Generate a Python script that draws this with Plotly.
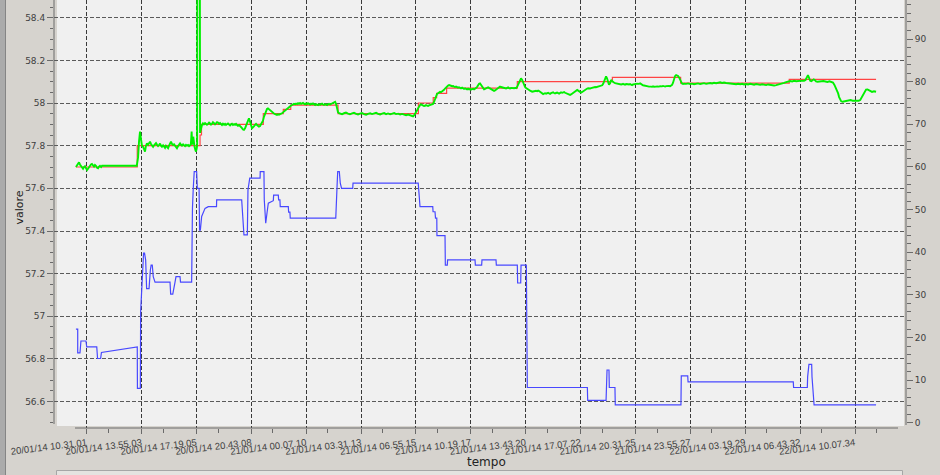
import pandas as pd
import plotly.graph_objects as go

# ---------------- data (ore = hours since 20/01/14 00:00) ----------------
BASE = pd.Timestamp("2014-01-20 00:00:00")

etichette_tempo = [
    "20/01/14 10.31.01", "20/01/14 13.55.03", "20/01/14 17.19.05", "20/01/14 20.43.08",
    "21/01/14 00.07.10", "21/01/14 03.31.13", "21/01/14 06.55.15", "21/01/14 10.19.17",
    "21/01/14 13.43.20", "21/01/14 17.07.22", "21/01/14 20.31.25", "21/01/14 23.55.27",
    "22/01/14 03.19.29", "22/01/14 06.43.32", "22/01/14 10.07.34",
]

# green series (left axis, "valore")
verde = [
    (9.85, 57.700), (9.92, 57.708), (9.98, 57.712), (10.04, 57.722), (10.10, 57.712), (10.16, 57.705),
    (10.23, 57.698), (10.29, 57.692), (10.35, 57.700), (10.41, 57.704), (10.47, 57.695), (10.54, 57.686),
    (10.60, 57.692), (10.66, 57.700), (10.72, 57.706), (10.78, 57.712), (10.84, 57.714), (10.91, 57.706),
    (10.97, 57.702), (11.03, 57.710), (11.09, 57.706), (11.16, 57.696), (11.22, 57.694), (11.28, 57.702),
    (11.34, 57.706), (11.41, 57.700), (11.47, 57.706), (13.62, 57.706),
    (13.70, 57.745), (13.76, 57.820), (13.82, 57.866), (13.88, 57.832), (13.94, 57.800), (14.01, 57.795),
    (14.07, 57.780), (14.13, 57.772), (14.19, 57.800), (14.25, 57.811), (14.32, 57.804), (14.38, 57.815),
    (14.44, 57.819), (14.50, 57.808), (14.56, 57.800), (14.63, 57.795), (14.69, 57.802), (14.75, 57.808),
    (14.81, 57.812), (14.87, 57.805), (14.94, 57.798), (15.00, 57.803), (15.06, 57.810), (15.12, 57.800),
    (15.18, 57.795), (15.25, 57.802), (15.31, 57.796), (15.37, 57.790), (15.43, 57.800), (15.49, 57.795),
    (15.56, 57.788), (15.62, 57.800), (15.68, 57.812), (15.74, 57.819), (15.80, 57.808), (15.87, 57.803),
    (15.93, 57.806), (15.99, 57.798), (16.05, 57.792), (16.11, 57.788), (16.18, 57.798), (16.24, 57.806),
    (16.30, 57.811), (16.36, 57.804), (16.42, 57.800), (16.49, 57.806), (16.55, 57.802), (16.61, 57.798),
    (16.67, 57.804), (16.73, 57.800), (16.80, 57.803), (16.86, 57.798), (16.92, 57.802), (16.97, 57.806),
    (17.00, 57.840), (17.02, 57.866), (17.05, 57.806), (17.09, 57.815), (17.12, 57.842), (17.15, 57.810),
    (17.20, 57.795), (17.26, 57.778), (17.29, 57.772), (17.33, 57.785), (17.36, 57.800), (17.38, 59.300),
    (17.52, 59.300), (17.54, 57.860), (17.58, 57.880), (17.62, 57.893),
    (17.66, 57.897), (17.72, 57.905), (17.78, 57.900), (17.85, 57.906), (17.91, 57.903), (17.97, 57.898),
    (18.03, 57.902), (18.10, 57.908), (18.16, 57.904), (18.22, 57.899), (18.28, 57.903), (18.34, 57.910),
    (18.41, 57.906), (18.47, 57.900), (18.53, 57.905), (18.59, 57.910), (18.65, 57.908), (18.72, 57.902),
    (18.78, 57.906), (18.84, 57.900), (18.90, 57.897), (18.96, 57.903), (19.03, 57.898), (19.09, 57.902),
    (19.15, 57.897), (19.21, 57.901), (19.27, 57.904), (19.34, 57.899), (19.40, 57.895), (19.46, 57.900),
    (19.52, 57.903), (19.58, 57.897), (19.65, 57.901), (19.71, 57.898), (19.77, 57.902), (19.83, 57.897),
    (19.89, 57.893), (19.96, 57.897), (20.02, 57.890), (20.08, 57.886), (20.14, 57.882), (20.20, 57.876),
    (20.26, 57.874), (20.33, 57.882), (20.39, 57.892), (20.45, 57.905), (20.51, 57.918), (20.57, 57.928),
    (20.63, 57.915), (20.70, 57.896), (20.76, 57.882), (20.82, 57.886), (20.88, 57.893), (20.94, 57.899),
    (21.01, 57.902), (21.07, 57.897), (21.13, 57.893), (21.19, 57.889), (21.26, 57.892), (21.32, 57.899),
    (21.38, 57.906), (21.44, 57.917), (21.50, 57.935), (21.57, 57.952), (21.63, 57.967), (21.69, 57.972),
    (21.75, 57.975), (21.81, 57.971), (21.88, 57.965), (21.94, 57.960), (22.00, 57.957), (22.06, 57.955),
    (22.12, 57.951), (22.19, 57.948), (22.25, 57.945), (22.31, 57.944), (22.37, 57.947), (22.43, 57.945),
    (22.50, 57.948), (22.56, 57.949), (22.62, 57.952), (22.68, 57.956), (22.74, 57.960), (22.81, 57.963),
    (22.87, 57.968), (22.93, 57.973), (22.99, 57.978), (23.05, 57.983), (23.12, 57.986), (23.18, 57.988),
    (23.24, 57.991), (23.30, 57.993), (23.36, 57.996), (23.43, 57.994), (23.49, 57.997), (23.55, 57.995),
    (23.61, 57.999), (23.67, 57.996), (23.74, 58.000), (23.80, 57.996), (23.86, 57.998), (23.92, 58.001),
    (23.98, 57.997), (24.05, 57.994), (24.11, 57.998), (24.17, 57.995), (24.23, 57.999), (24.29, 57.996),
    (24.36, 57.993), (24.42, 57.997), (24.48, 57.995), (24.54, 57.998), (24.60, 57.994), (24.67, 57.991),
    (24.73, 57.995), (24.79, 57.993), (24.85, 57.990), (24.91, 57.994), (24.98, 57.992), (25.04, 57.995),
    (25.10, 57.997), (25.16, 57.993), (25.22, 57.991), (25.29, 57.995), (25.35, 57.993), (25.41, 57.990),
    (25.47, 57.994), (25.53, 57.996), (25.60, 57.993), (25.66, 57.995), (25.72, 57.997), (25.78, 57.999),
    (25.84, 58.002), (25.91, 58.006), (25.97, 57.995), (26.03, 57.970), (26.09, 57.957), (26.15, 57.953),
    (26.21, 57.951), (26.34, 57.948), (26.46, 57.952), (26.58, 57.955), (26.71, 57.950), (26.83, 57.947),
    (26.96, 57.951), (27.08, 57.954), (27.21, 57.949), (27.33, 57.946), (27.45, 57.950), (27.58, 57.953),
    (27.70, 57.948), (27.83, 57.945), (27.95, 57.949), (28.08, 57.952), (28.20, 57.948), (28.32, 57.951),
    (28.45, 57.954), (28.57, 57.949), (28.70, 57.946), (28.82, 57.950), (28.95, 57.953), (29.07, 57.948),
    (29.19, 57.951), (29.32, 57.947), (29.44, 57.950), (29.57, 57.953), (29.69, 57.948), (29.82, 57.950),
    (29.94, 57.946), (30.06, 57.949), (30.19, 57.946), (30.31, 57.943), (30.44, 57.946), (30.56, 57.942),
    (30.68, 57.939), (30.74, 57.937), (30.80, 57.942), (30.86, 57.948), (30.92, 57.957), (30.99, 57.966),
    (31.05, 57.975), (31.11, 57.984), (31.17, 57.990), (31.23, 57.994), (31.30, 57.991), (31.36, 57.988),
    (31.42, 57.986), (31.48, 57.987), (31.54, 57.990), (31.61, 57.988), (31.67, 57.986), (31.73, 57.989),
    (31.79, 57.991), (31.85, 57.990), (31.92, 57.993), (31.98, 57.996), (32.04, 58.005), (32.10, 58.018),
    (32.16, 58.032), (32.22, 58.042), (32.29, 58.046), (32.35, 58.048), (32.41, 58.053), (32.47, 58.051),
    (32.53, 58.054), (32.60, 58.058), (32.66, 58.062), (32.72, 58.068), (32.78, 58.074), (32.85, 58.079),
    (32.91, 58.082), (32.97, 58.084), (33.03, 58.084), (33.09, 58.081), (33.16, 58.079), (33.22, 58.080),
    (33.28, 58.077), (33.34, 58.075), (33.40, 58.077), (33.47, 58.074), (33.53, 58.072), (33.59, 58.074),
    (33.65, 58.071), (33.71, 58.069), (33.78, 58.072), (33.84, 58.068), (33.90, 58.066), (33.96, 58.069),
    (34.02, 58.066), (34.09, 58.064), (34.15, 58.067), (34.21, 58.064), (34.27, 58.066), (34.33, 58.063),
    (34.40, 58.065), (34.46, 58.067), (34.52, 58.064), (34.58, 58.066), (34.64, 58.070), (34.71, 58.076),
    (34.77, 58.084), (34.83, 58.090), (34.89, 58.092), (34.95, 58.086), (35.02, 58.076), (35.08, 58.068),
    (35.14, 58.064), (35.20, 58.066), (35.26, 58.069), (35.33, 58.072), (35.39, 58.074), (35.45, 58.071),
    (35.51, 58.068), (35.57, 58.064), (35.64, 58.060), (35.70, 58.058), (35.76, 58.057), (35.82, 58.059),
    (35.88, 58.063), (35.95, 58.067), (36.01, 58.071), (36.07, 58.075), (36.13, 58.077), (36.19, 58.075),
    (36.26, 58.073), (36.32, 58.071), (36.38, 58.073), (36.44, 58.070), (36.50, 58.068), (36.57, 58.071),
    (36.63, 58.073), (36.69, 58.070), (36.75, 58.068), (36.81, 58.071), (36.88, 58.069), (36.94, 58.067),
    (37.00, 58.069), (37.06, 58.071), (37.12, 58.070), (37.19, 58.076), (37.25, 58.088), (37.31, 58.100),
    (37.37, 58.112), (37.43, 58.116), (37.50, 58.108), (37.56, 58.096), (37.62, 58.084), (37.68, 58.075),
    (37.74, 58.070), (37.81, 58.068), (37.87, 58.065), (37.93, 58.061), (37.99, 58.058), (38.05, 58.055),
    (38.12, 58.053), (38.18, 58.054), (38.24, 58.056), (38.30, 58.058), (38.36, 58.057), (38.43, 58.055),
    (38.49, 58.058), (38.55, 58.056), (38.61, 58.052), (38.67, 58.048), (38.74, 58.044), (38.80, 58.042),
    (38.86, 58.044), (38.92, 58.046), (38.98, 58.044), (39.05, 58.046), (39.11, 58.048), (39.17, 58.045),
    (39.23, 58.043), (39.29, 58.046), (39.36, 58.048), (39.42, 58.050), (39.48, 58.047), (39.54, 58.045),
    (39.60, 58.047), (39.67, 58.049), (39.73, 58.046), (39.79, 58.044), (39.85, 58.047), (39.91, 58.050),
    (39.98, 58.048), (40.04, 58.050), (40.10, 58.051), (40.16, 58.048), (40.22, 58.046), (40.29, 58.044),
    (40.35, 58.042), (40.41, 58.040), (40.47, 58.038), (40.53, 58.040), (40.60, 58.044), (40.66, 58.048),
    (40.72, 58.053), (40.78, 58.057), (40.84, 58.060), (40.91, 58.061), (40.97, 58.058), (41.03, 58.054),
    (41.09, 58.050), (41.15, 58.049), (41.22, 58.052), (41.28, 58.056), (41.34, 58.060), (41.40, 58.063),
    (41.46, 58.066), (41.53, 58.068), (41.59, 58.069), (41.65, 58.067), (41.71, 58.068), (41.77, 58.070),
    (41.84, 58.072), (41.90, 58.071), (41.96, 58.073), (42.02, 58.075), (42.08, 58.074), (42.15, 58.076),
    (42.21, 58.077), (42.27, 58.079), (42.33, 58.078), (42.39, 58.080), (42.46, 58.083), (42.52, 58.090),
    (42.58, 58.102), (42.64, 58.115), (42.70, 58.125), (42.76, 58.116), (42.82, 58.098), (42.88, 58.086),
    (42.95, 58.092), (43.01, 58.108), (43.07, 58.103), (43.13, 58.098), (43.19, 58.096), (43.26, 58.093),
    (43.32, 58.092), (43.38, 58.090), (43.44, 58.088), (43.50, 58.090), (43.57, 58.089), (43.63, 58.087),
    (43.69, 58.088), (43.75, 58.090), (43.81, 58.088), (43.88, 58.086), (43.94, 58.089), (44.00, 58.090),
    (44.06, 58.088), (44.12, 58.087), (44.19, 58.089), (44.25, 58.086), (44.31, 58.084), (44.37, 58.087),
    (44.43, 58.089), (44.50, 58.088), (44.56, 58.090), (44.62, 58.091), (44.68, 58.089), (44.74, 58.090),
    (44.81, 58.092), (44.87, 58.088), (44.93, 58.085), (44.99, 58.083), (45.05, 58.082), (45.12, 58.080),
    (45.18, 58.079), (45.24, 58.080), (45.30, 58.078), (45.36, 58.077), (45.43, 58.079), (45.49, 58.077),
    (45.55, 58.076), (45.61, 58.078), (45.67, 58.076), (45.74, 58.075), (45.80, 58.077), (45.86, 58.078),
    (45.92, 58.076), (45.98, 58.077), (46.05, 58.079), (46.11, 58.077), (46.17, 58.078), (46.23, 58.080),
    (46.29, 58.078), (46.36, 58.077), (46.42, 58.079), (46.48, 58.080), (46.54, 58.078), (46.60, 58.080),
    (46.67, 58.079), (46.73, 58.081), (46.79, 58.085), (46.85, 58.095), (46.91, 58.112), (46.97, 58.126),
    (47.04, 58.131), (47.10, 58.130), (47.16, 58.127), (47.22, 58.120), (47.28, 58.110), (47.35, 58.098),
    (47.41, 58.091), (47.47, 58.089), (47.53, 58.091), (47.66, 58.090), (47.78, 58.092), (47.91, 58.089),
    (48.03, 58.091), (48.15, 58.088), (48.28, 58.090), (48.40, 58.092), (48.53, 58.089), (48.65, 58.091),
    (48.77, 58.093), (48.90, 58.090), (49.02, 58.092), (49.15, 58.094), (49.27, 58.092), (49.39, 58.095),
    (49.52, 58.093), (49.64, 58.095), (49.77, 58.097), (49.89, 58.094), (50.01, 58.096), (50.14, 58.094),
    (50.26, 58.093), (50.39, 58.091), (50.51, 58.089), (50.63, 58.091), (50.76, 58.088), (50.88, 58.090),
    (51.01, 58.088), (51.13, 58.090), (51.25, 58.087), (51.38, 58.089), (51.50, 58.087), (51.63, 58.090),
    (51.75, 58.088), (51.87, 58.086), (52.00, 58.089), (52.12, 58.087), (52.25, 58.085), (52.37, 58.088),
    (52.49, 58.086), (52.62, 58.084), (52.74, 58.087), (52.87, 58.085), (52.99, 58.083), (53.11, 58.082),
    (53.24, 58.084), (53.36, 58.086), (53.49, 58.088), (53.61, 58.091), (53.73, 58.094), (53.86, 58.098),
    (53.98, 58.101), (54.11, 58.103), (54.23, 58.101), (54.35, 58.104), (54.48, 58.102), (54.60, 58.104),
    (54.73, 58.103), (54.85, 58.105), (54.97, 58.104), (55.06, 58.108), (55.14, 58.120), (55.21, 58.131),
    (55.28, 58.118), (55.35, 58.104), (55.42, 58.102), (55.50, 58.106), (55.57, 58.111), (55.64, 58.107),
    (55.71, 58.101), (55.80, 58.100), (55.92, 58.102), (56.05, 58.101), (56.17, 58.103), (56.29, 58.101),
    (56.42, 58.099), (56.54, 58.102), (56.67, 58.100), (56.76, 58.096), (56.85, 58.085), (56.94, 58.072),
    (57.01, 58.061), (57.08, 58.045), (57.14, 58.028), (57.20, 58.014), (57.27, 58.008), (57.36, 58.006),
    (57.48, 58.008), (57.61, 58.011), (57.73, 58.013), (57.85, 58.014), (57.98, 58.011), (58.10, 58.010),
    (58.23, 58.012), (58.35, 58.011), (58.45, 58.014), (58.53, 58.025), (58.62, 58.042), (58.72, 58.057),
    (58.81, 58.063), (58.90, 58.064), (58.99, 58.060), (59.08, 58.055), (59.18, 58.052), (59.30, 58.055),
    (59.43, 58.053),
]

# red step series (left axis)
rosso = [
    (9.85, 57.700), (13.65, 57.800), (17.54, 57.850), (17.63, 57.900), (21.46, 57.950),
    (22.70, 57.970), (23.16, 57.990), (26.09, 57.950), (31.07, 58.000), (31.99, 58.025),
    (32.20, 58.045), (32.82, 58.070), (37.20, 58.100), (43.09, 58.120), (47.32, 58.093),
    (54.05, 58.111), (59.43, 58.111),
]

# blue series (right axis)
blu = [
    (9.85, 22.0), (9.96, 22.0), (9.96, 16.4), (10.10, 16.4), (10.16, 19.2), (10.47, 19.2),
    (10.52, 17.8), (11.14, 17.8), (11.19, 15.1), (11.38, 15.1), (11.43, 16.5), (13.65, 17.8),
    (13.66, 8.1), (13.84, 8.1), (13.86, 26.1), (13.99, 35.8), (14.04, 39.8), (14.10, 39.8),
    (14.17, 38.2), (14.23, 31.5), (14.38, 31.5), (14.46, 35.8), (14.51, 37.0), (14.58, 37.0),
    (14.64, 34.3), (14.75, 33.0), (15.68, 33.0), (15.72, 30.2), (15.85, 30.2), (15.99, 33.0),
    (16.05, 34.3), (16.30, 34.3), (16.33, 33.0), (17.02, 33.0), (17.04, 42.9), (17.07, 50.3),
    (17.12, 55.0), (17.18, 58.9), (17.33, 58.9), (17.37, 55.0), (17.48, 55.0), (17.51, 45.2),
    (17.56, 45.2), (17.64, 48.4), (17.85, 50.3), (18.05, 50.7), (18.56, 50.7), (18.57, 52.3),
    (20.12, 52.3), (20.18, 48.4), (20.26, 44.1), (20.47, 44.1), (20.51, 54.6), (20.62, 57.4),
    (21.26, 57.4), (21.27, 58.9), (21.50, 58.9), (21.52, 52.3), (21.61, 46.8), (21.69, 49.2),
    (21.77, 51.5), (22.08, 52.1), (22.10, 53.4), (22.39, 53.4), (22.41, 52.3), (22.49, 52.3),
    (22.51, 50.7), (23.01, 50.7), (23.03, 49.4), (23.11, 49.4), (23.13, 48.0), (25.95, 48.0),
    (25.98, 49.9), (26.03, 55.4), (26.07, 58.9), (26.17, 58.9), (26.23, 56.2), (26.31, 55.0),
    (27.00, 55.0), (27.02, 56.2), (31.06, 56.2), (31.11, 53.1), (31.17, 50.7), (31.96, 50.7),
    (31.98, 49.5), (32.10, 49.5), (32.13, 48.0), (32.21, 48.0), (32.22, 43.9), (32.72, 43.9),
    (32.74, 37.0), (32.86, 37.0), (32.88, 38.2), (34.58, 38.2), (34.60, 37.0), (34.99, 37.0),
    (35.01, 38.2), (35.88, 38.2), (35.90, 37.0), (37.20, 37.0), (37.22, 32.8), (37.41, 32.8),
    (37.43, 37.0), (37.76, 37.0), (37.78, 21.4), (37.82, 8.3), (41.54, 8.3), (41.56, 5.3),
    (42.70, 5.3), (42.71, 8.8), (42.76, 12.4), (42.88, 12.4), (42.90, 8.3), (43.25, 8.3),
    (43.27, 4.2), (47.34, 4.2), (47.36, 11.0), (47.76, 11.0), (47.78, 9.6), (54.30, 9.6),
    (54.32, 8.3), (55.17, 8.3), (55.19, 10.8), (55.27, 13.7), (55.44, 13.7), (55.46, 10.8),
    (55.52, 6.7), (55.59, 4.2), (59.43, 4.2),
]

# ---------------- helpers ----------------
def to_time(hours):
    return BASE + pd.to_timedelta(hours, unit="h")

ore_verde = [p[0] for p in verde]
val_verde = [p[1] for p in verde]
ore_rosso = [p[0] for p in rosso]
val_rosso = [p[1] for p in rosso]
ore_blu = [p[0] for p in blu]
val_blu = [p[1] for p in blu]

tick_tempi = pd.to_datetime(etichette_tempo, format="%d/%m/%y %H.%M.%S")
minor_tempi = tick_tempi + pd.Timedelta(minutes=80, seconds=18)

# plot area in pixels: x 54..906, y 0..428
PX_L, PX_R, PX_T, PX_B = 54, 906, 0, 428
W, H = 940, 475
def px(x):
    return (x - PX_L) / (PX_R - PX_L)
def py(y):
    return (PX_B - y) / (PX_B - PX_T)

fig = go.Figure()
fig.add_trace(go.Scatter(x=to_time(ore_blu), y=val_blu, yaxis="y2", mode="lines",
                         line=dict(color="#4848ff", width=1.2), hoverinfo="skip"))
fig.add_trace(go.Scatter(x=to_time(ore_rosso), y=val_rosso, mode="lines",
                         line=dict(color="#ff4444", width=1.2, shape="hv"), hoverinfo="skip"))
fig.add_trace(go.Scatter(x=to_time(ore_verde), y=val_verde, mode="lines",
                         line=dict(color="#00f000", width=1.9), hoverinfo="skip"))

OUTER = "#d6d3ce"
AXC = "#6a6a6a"
TXT = "#404040"

shapes = [
    # plot background
    dict(type="rect", xref="paper", yref="paper", x0=px(57), x1=px(904), y0=py(426), y1=py(0),
         fillcolor="#f0f0f0", line=dict(width=0), layer="below"),
    # left window border strip
    dict(type="rect", xref="paper", yref="paper", x0=px(0), x1=px(5), y0=py(480), y1=py(0),
         fillcolor="#ababab", line=dict(width=0), layer="below"),
    dict(type="line", xref="paper", yref="paper", x0=px(5.5), x1=px(5.5), y0=py(480), y1=py(0),
         line=dict(color="#858585", width=1), layer="below"),
    # bottom legend box
    dict(type="rect", xref="paper", yref="paper", x0=px(56.5), x1=px(902.5), y0=py(482), y1=py(470.5),
         fillcolor="#e4e3e0", line=dict(color="#a6a6a6", width=1), layer="below"),
    # axis lines
    dict(type="line", xref="paper", yref="paper", x0=0, x1=0, y0=py(424), y1=1,
         line=dict(color=AXC, width=1), layer="above"),
    dict(type="line", xref="paper", yref="paper", x0=1, x1=1, y0=py(425), y1=1,
         line=dict(color=AXC, width=1), layer="above"),
    dict(type="line", xref="paper", yref="paper", x0=px(75), x1=px(898), y0=0, y1=0,
         line=dict(color=AXC, width=1), layer="above"),
]

annotations = [
    dict(text="tempo", xref="paper", yref="paper", x=px(486), y=py(462), showarrow=False,
         xanchor="center", yanchor="middle", font=dict(size=12, color="#222222")),
    dict(text="valore", xref="paper", yref="paper", x=px(18.5), y=py(208), showarrow=False,
         textangle=-90, xanchor="center", yanchor="middle", font=dict(size=11, color="#222222")),
]

fig.update_layout(
    width=W, height=H,
    margin=dict(l=PX_L, r=W - PX_R, t=PX_T, b=H - PX_B, pad=0),
    paper_bgcolor=OUTER, plot_bgcolor="rgba(0,0,0,0)",
    showlegend=False, template="none",
    font=dict(family="DejaVu Sans", size=9, color=TXT),
    shapes=shapes, annotations=annotations,
    xaxis=dict(
        type="date",
        range=[to_time(8.4905), to_time(61.285)],
        tickmode="array", tickvals=tick_tempi, ticktext=etichette_tempo,
        tickangle=-7, ticks="outside", ticklen=5, tickcolor=AXC, tickwidth=1,
        tickfont=dict(family="Liberation Sans", size=9.5, color=TXT),
        showgrid=True, gridcolor="#3a3a3a", griddash="4px,2px", gridwidth=1,
        zeroline=False, showline=False, automargin=False,
        minor=dict(tickmode="array", tickvals=minor_tempi, ticks="outside", ticklen=4,
                   tickcolor=AXC, showgrid=False),
    ),
    yaxis=dict(
        range=[56.4764, 58.483], tickmode="linear", tick0=56.6, dtick=0.2,
        ticks="outside", ticklen=6, tickcolor=AXC, tickwidth=1,
        showgrid=True, gridcolor="#5a5a5a", griddash="4px,2px", gridwidth=1,
        zeroline=False, showline=False, automargin=False,
        minor=dict(dtick=0.05, tick0=56.6, ticks="outside", ticklen=3, tickcolor=AXC, showgrid=False),
    ),
    yaxis2=dict(
        overlaying="y", side="right", range=[-1.2, 99.15], tickmode="linear", tick0=0, dtick=10,
        ticks="outside", ticklen=6, tickcolor=AXC, tickwidth=1,
        showgrid=False, zeroline=False, showline=False, automargin=False,
        minor=dict(dtick=2, tick0=0, ticks="outside", ticklen=3.5, tickcolor=AXC, showgrid=False),
    ),
)

fig.write_html(
    "out.html",
    config={"displayModeBar": False, "staticPlot": True},
    post_script="document.body.style.margin='0';document.body.style.padding='0';"
                "document.body.style.background='" + OUTER + "';",
)
